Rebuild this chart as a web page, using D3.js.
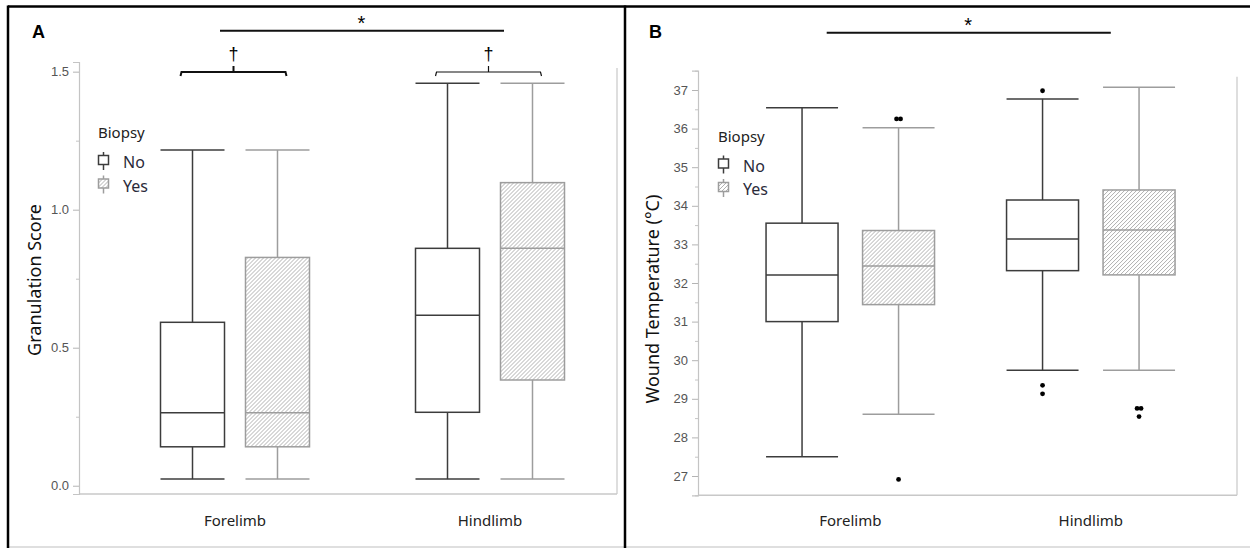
<!DOCTYPE html>
<html>
<head>
<meta charset="utf-8">
<script src="https://cdn.jsdelivr.net/npm/d3@7/dist/d3.min.js"></script>
<style>
  html, body { margin: 0; padding: 0; background: #fff; }
  svg { display: block; }
</style>
</head>
<body>
<script>
// Groups and series
const limbs = ["Forelimb", "Hindlimb"];
const biopsy = ["No", "Yes"];

// Box statistics, ordered Forelimb-No, Forelimb-Yes, Hindlimb-No, Hindlimb-Yes
const granulationLow    = [0.024, 0.024, 0.024, 0.024];
const granulationQ1     = [0.141, 0.141, 0.266, 0.383];
const granulationMedian = [0.264, 0.264, 0.618, 0.860];
const granulationQ3     = [0.592, 0.827, 0.860, 1.098];
const granulationHigh   = [1.216, 1.216, 1.458, 1.458];
const granulationOutliers = [[], [], [], []];

const temperatureLow    = [27.50, 28.60, 29.74, 29.74];
const temperatureQ1     = [31.00, 31.44, 32.32, 32.21];
const temperatureMedian = [32.21, 32.44, 33.14, 33.37];
const temperatureQ3     = [33.55, 33.36, 34.15, 34.41];
const temperatureHigh   = [36.54, 36.02, 36.77, 37.07];
const temperatureOutliers = [[], [36.25, 36.25, 26.91], [36.98, 29.35, 29.13], [28.75, 28.75, 28.54]];

// Axis ticks
const granulationTicks = [0, 0.5, 1.0, 1.5];
const granulationTickLabels = ["0.0", "0.5", "1.0", "1.5"];
const granulationMinor = [0.25, 0.75, 1.25];
const temperatureTicks = [27, 28, 29, 30, 31, 32, 33, 34, 35, 36, 37];
const temperatureTickLabels = ["27", "28", "29", "30", "31", "32", "33", "34", "35", "36", "37"];
const temperatureMinor = [26.5, 27.5, 28.5, 29.5, 30.5, 31.5, 32.5, 33.5, 34.5, 35.5, 36.5, 37.5];

const W = 1250, H = 548;
const svg = d3.select("body").append("svg").attr("width", W).attr("height", H);

const defs = svg.append("defs");
const hatch = defs.append("pattern")
  .attr("id", "hatch")
  .attr("patternUnits", "userSpaceOnUse")
  .attr("width", 4).attr("height", 4);
hatch.append("rect").attr("width", 4).attr("height", 4).attr("fill", "#fff");
hatch.append("path")
  .attr("d", "M0,4 L4,0 M-1,1 L1,-1 M3,5 L5,3")
  .attr("stroke", "#a8a8a8").attr("stroke-width", 0.9);

const seriesStroke = { No: "#3c3c3c", Yes: "#9d9d9d" };
const seriesFill = { No: "#ffffff", Yes: "url(#hatch)" };
const uiFont = "'Noto Sans', 'Open Sans', sans-serif";
const tickFont = "'Liberation Sans Narrow', 'Arial Narrow', 'Liberation Sans', sans-serif";

function buildRows(low, q1, med, q3, high, outliers) {
  const rows = [];
  limbs.forEach((limb, i) => {
    biopsy.forEach((b, j) => {
      const k = i * biopsy.length + j;
      rows.push({ limb, biopsy: b, low: low[k], q1: q1[k], median: med[k], q3: q3[k], high: high[k], outliers: outliers[k] });
    });
  });
  return rows;
}

const panels = [
  {
    letter: "A", frameLeft: 8, frameRight: 625,
    left: 79, right: 617, top: 62, bottom: 494,
    domain: [-0.03, 1.535],
    groupRange: [235, 490], innerWidth: 149, innerPad: 0.247,
    ticks: granulationTicks, tickLabels: granulationTickLabels, minor: granulationMinor,
    title: "Granulation Score", titleX: 34, titleY: 280, titleSize: 18,
    legendX: 98, legendY: 138,
    rows: buildRows(granulationLow, granulationQ1, granulationMedian, granulationQ3, granulationHigh, granulationOutliers),
    starY: 30.7, starLeft: -15, starRight: 14,
    brackets: true
  },
  {
    letter: "B", frameLeft: 625, frameRight: 1250,
    left: 698, right: 1237, top: 70.7, bottom: 495.3,
    domain: [26.5, 37.5],
    groupRange: [850.3, 1090.8], innerWidth: 168.5, innerPad: 0.254,
    ticks: temperatureTicks, tickLabels: temperatureTickLabels, minor: temperatureMinor,
    title: "Wound Temperature (°C)", titleX: 652, titleY: 299, titleSize: 18,
    legendX: 718, legendY: 141.5,
    rows: buildRows(temperatureLow, temperatureQ1, temperatureMedian, temperatureQ3, temperatureHigh, temperatureOutliers),
    starY: 32.7, starLeft: -23.6, starRight: 20,
    brackets: false
  }
];

// Outer figure frame
svg.append("line").attr("x1", 8).attr("x2", W).attr("y1", 6.5).attr("y2", 6.5)
  .attr("stroke", "#000").attr("stroke-width", 2.5);
svg.append("line").attr("x1", 8).attr("x2", W).attr("y1", 547).attr("y2", 547)
  .attr("stroke", "#d4d4d4").attr("stroke-width", 1.5);
[8, 625].forEach(x => {
  svg.append("line").attr("x1", x).attr("x2", x).attr("y1", 5.5).attr("y2", H)
    .attr("stroke", "#000").attr("stroke-width", 2.5);
});

panels.forEach(p => {
  const g = svg.append("g");
  const y = d3.scaleLinear().domain(p.domain).range([p.bottom, p.top]);
  const x = d3.scalePoint().domain(limbs).range(p.groupRange);
  const xi = d3.scaleBand().domain(biopsy)
    .range([-p.innerWidth / 2, p.innerWidth / 2]).paddingInner(p.innerPad).paddingOuter(0);
  const bw = xi.bandwidth();

  // Panel letter
  g.append("text").attr("x", p.frameLeft + 24).attr("y", 38)
    .attr("font-family", "'Liberation Sans', Arial, sans-serif").attr("font-weight", "bold")
    .attr("font-size", 18).attr("fill", "#000").text(p.letter);

  // Plot frame: right and bottom edges
  g.append("line").attr("x1", p.right).attr("x2", p.right).attr("y1", p.top + 6).attr("y2", p.bottom)
    .attr("stroke", "#c8c8c8").attr("stroke-width", 1.2);
  g.append("line").attr("x1", p.left).attr("x2", p.right).attr("y1", p.bottom).attr("y2", p.bottom)
    .attr("stroke", "#c8c8c8").attr("stroke-width", 1.5);

  // Y axis
  const axis = g.append("g").attr("transform", `translate(${p.left},0)`)
    .call(d3.axisLeft(y).tickValues(p.ticks).tickSize(6).tickPadding(4)
      .tickFormat((d, i) => p.tickLabels[i]));
  axis.select(".domain").attr("stroke", "#c4c4c4").attr("stroke-width", 1.2);
  axis.selectAll(".tick line").attr("stroke", "#b4b4b4");
  axis.selectAll(".tick text").attr("font-family", tickFont).attr("font-size", 13)
    .attr("fill", "#555");
  const minorAxis = g.append("g").attr("transform", `translate(${p.left},0)`)
    .call(d3.axisLeft(y).tickValues(p.minor).tickSize(3).tickFormat(""));
  minorAxis.select(".domain").remove();
  minorAxis.selectAll(".tick line").attr("stroke", "#c4c4c4");

  // Y axis title
  g.append("text")
    .attr("transform", `translate(${p.titleX},${p.titleY}) rotate(-90)`)
    .attr("text-anchor", "middle").attr("dominant-baseline", "central")
    .attr("font-family", uiFont).attr("font-size", p.titleSize).attr("fill", "#111")
    .text(p.title);

  // X category labels
  g.selectAll("text.cat").data(limbs).join("text").attr("class", "cat")
    .attr("x", d => x(d)).attr("y", 526)
    .attr("text-anchor", "middle")
    .attr("font-family", uiFont).attr("font-size", 15).attr("fill", "#222")
    .text(d => d);

  // Boxes
  const boxes = g.selectAll("g.box").data(p.rows).join("g").attr("class", "box")
    .attr("transform", d => `translate(${x(d.limb) + xi(d.biopsy)},0)`);
  boxes.each(function (d) {
    const b = d3.select(this);
    const s = seriesStroke[d.biopsy];
    const cx = bw / 2;
    b.append("line").attr("x1", cx).attr("x2", cx).attr("y1", y(d.q3)).attr("y2", y(d.high))
      .attr("stroke", s).attr("stroke-width", 1.5);
    b.append("line").attr("x1", cx).attr("x2", cx).attr("y1", y(d.q1)).attr("y2", y(d.low))
      .attr("stroke", s).attr("stroke-width", 1.5);
    b.append("line").attr("x1", 0).attr("x2", bw).attr("y1", y(d.high)).attr("y2", y(d.high))
      .attr("stroke", s).attr("stroke-width", 1.5);
    b.append("line").attr("x1", 0).attr("x2", bw).attr("y1", y(d.low)).attr("y2", y(d.low))
      .attr("stroke", s).attr("stroke-width", 1.5);
    b.append("rect").attr("x", 0).attr("width", bw)
      .attr("y", y(d.q3)).attr("height", y(d.q1) - y(d.q3))
      .attr("fill", seriesFill[d.biopsy]).attr("stroke", s).attr("stroke-width", 1.5);
    b.append("line").attr("x1", 0).attr("x2", bw).attr("y1", y(d.median)).attr("y2", y(d.median))
      .attr("stroke", s).attr("stroke-width", 1.5);
    // Outliers; repeated values sit side by side
    const seen = {};
    d.outliers.forEach(v => {
      const n = seen[v] || 0;
      seen[v] = n + 1;
      const count = d.outliers.filter(o => o === v).length;
      const off = count > 1 ? (n - (count - 1) / 2) * 4 : 0;
      b.append("circle").attr("cx", cx + off).attr("cy", y(v)).attr("r", 2.4).attr("fill", "#000");
    });
  });

  // Legend
  const lg = g.append("g").attr("transform", `translate(${p.legendX},${p.legendY})`);
  lg.append("text").attr("x", 0).attr("y", 0)
    .attr("font-family", uiFont).attr("font-size", 15).attr("fill", "#222").text("Biopsy");
  biopsy.forEach((b, i) => {
    const row = lg.append("g").attr("transform", `translate(0,${30 + i * 23.5})`);
    const s = seriesStroke[b];
    row.append("line").attr("x1", 5.5).attr("x2", 5.5).attr("y1", -16).attr("y2", 2)
      .attr("stroke", s).attr("stroke-width", 1.5);
    row.append("rect").attr("x", 0.5).attr("y", -12.5).attr("width", 10).attr("height", 9)
      .attr("fill", seriesFill[b]).attr("stroke", s).attr("stroke-width", 1.5);
    row.append("text").attr("x", 25).attr("y", 0)
      .attr("font-family", uiFont).attr("font-size", 16).attr("fill", "#2a2a3a").text(b);
  });

  // Significance line between limbs
  const x0 = x(limbs[0]) + p.starLeft, x1 = x(limbs[1]) + p.starRight;
  g.append("line").attr("x1", x0).attr("x2", x1).attr("y1", p.starY).attr("y2", p.starY)
    .attr("stroke", "#111").attr("stroke-width", 2);
  g.append("text").attr("x", (x0 + x1) / 2 - 0.5).attr("y", p.starY - 1)
    .attr("text-anchor", "middle")
    .attr("font-family", "'Liberation Sans', Arial, sans-serif").attr("font-size", 20)
    .attr("fill", "#000").text("*");

  // Brackets over biopsy pairs
  if (p.brackets) {
    limbs.forEach((limb, i) => {
      const bl = x(limb) + xi("No") + bw / 2 - 12;
      const br = x(limb) + xi("Yes") + bw / 2 + 9;
      const mid = (bl + br) / 2;
      const yb = 72;
      const sw = i === 0 ? 2 : 1.2;
      g.append("path")
        .attr("d", `M${bl},${yb + 4} L${bl + 1},${yb} L${br - 1},${yb} L${br},${yb + 4} M${mid},${yb} L${mid},${yb - 6}`)
        .attr("fill", "none").attr("stroke", "#111").attr("stroke-width", sw);
      g.append("text").attr("x", mid).attr("y", yb - 12)
        .attr("text-anchor", "middle")
        .attr("font-family", "'Liberation Sans', Arial, sans-serif").attr("font-size", 18)
        .attr("fill", "#000").text("†");
    });
  }
});
</script>
</body>
</html>
